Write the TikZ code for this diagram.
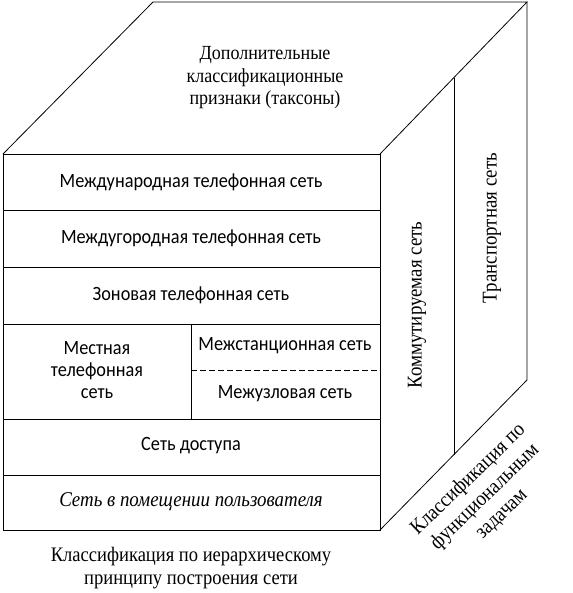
\documentclass[tikz,border=0pt]{standalone}
\usepackage{fontspec}
\setmainfont{Liberation Serif}[FakeStretch=0.9]
\newfontfamily\boxfont{Carlito}[FakeStretch=0.9]
\begin{document}
\begin{tikzpicture}[x=1pt,y=-1pt, line width=0.8pt,
  serift/.style={font=\fontsize{20}{22.5}\selectfont, align=center, inner sep=0pt},
  bott/.style={font=\fontsize{20.6}{22.5}\selectfont, align=center, inner sep=0pt},
  sidet/.style={font=\fontsize{21}{24}\selectfont, align=center, inner sep=0pt},
  boxt/.style={font=\boxfont\fontsize{20.3}{22}\selectfont, align=center, inner sep=0pt},
  italt/.style={font=\itshape\fontsize{21}{22}\selectfont, align=center, inner sep=0pt},
  dashline/.style={dash pattern=on 6pt off 3pt, line width=0.8pt}]
\useasboundingbox (0,0) rectangle (572,593);
% corners
\coordinate (A) at (3,154);
\coordinate (B) at (380,154);
\coordinate (C) at (380,530);
\coordinate (D) at (3,530);
\coordinate (E) at (153,2);
\coordinate (F) at (527,2);
\coordinate (G) at (527,380);
\coordinate (H) at (454,78);
\coordinate (I) at (454,455);
% faces
\draw (A) -- (E) -- (F) -- (B);
\draw (F) -- (G) -- (C);
\draw (A) rectangle (C);
\draw (H) -- (I);
% rows
\coordinate (r1l) at (3,210); \coordinate (r1r) at (380,210);
\coordinate (r2l) at (3,267); \coordinate (r2r) at (380,267);
\coordinate (r3l) at (3,324); \coordinate (r3r) at (380,324);
\coordinate (r4l) at (3,419); \coordinate (r4r) at (380,419);
\coordinate (r5l) at (3,475); \coordinate (r5r) at (380,475);
\draw (r1l) -- (r1r);
\draw (r2l) -- (r2r);
\draw (r3l) -- (r3r);
\draw (r4l) -- (r4r);
\draw (r5l) -- (r5r);
\coordinate (v1) at (191,324); \coordinate (v2) at (191,419);
\draw (v1) -- (v2);
\coordinate (d1) at (191,370); \coordinate (d2) at (380,370);
\draw[dashline] (d1) -- (d2);
% texts
\node[serift] (top) at (265,78) {Дополнительные\\классификационные\\признаки (таксоны)};
\node[boxt] (t1) at (191,182) {Международная телефонная сеть};
\node[boxt] (t2) at (191,238) {Междугородная телефонная сеть};
\node[boxt] (t3) at (191,295) {Зоновая телефонная сеть};
\node[boxt] (t4) at (97,370) {Местная\\телефонная\\сеть};
\node[boxt] (t5) at (285,346) {Межстанционная сеть};
\node[boxt] (t6) at (285,394) {Межузловая сеть};
\node[boxt] (t7) at (191,446) {Сеть доступа};
\node[italt] (t8) at (191,502) {Сеть в помещении пользователя};
\node[sidet, rotate=90] (k) at (417,305) {Коммутируемая сеть};
\node[sidet, rotate=90] (tr) at (492,228) {Транспортная сеть};
\node[sidet, rotate=44] (fn) at (485,497) {Классификация по\\функциональным\\задачам};
\node[bott] (bot) at (191,568) {Классификация по иерархическому\\принципу построения сети};
\end{tikzpicture}
\end{document}
